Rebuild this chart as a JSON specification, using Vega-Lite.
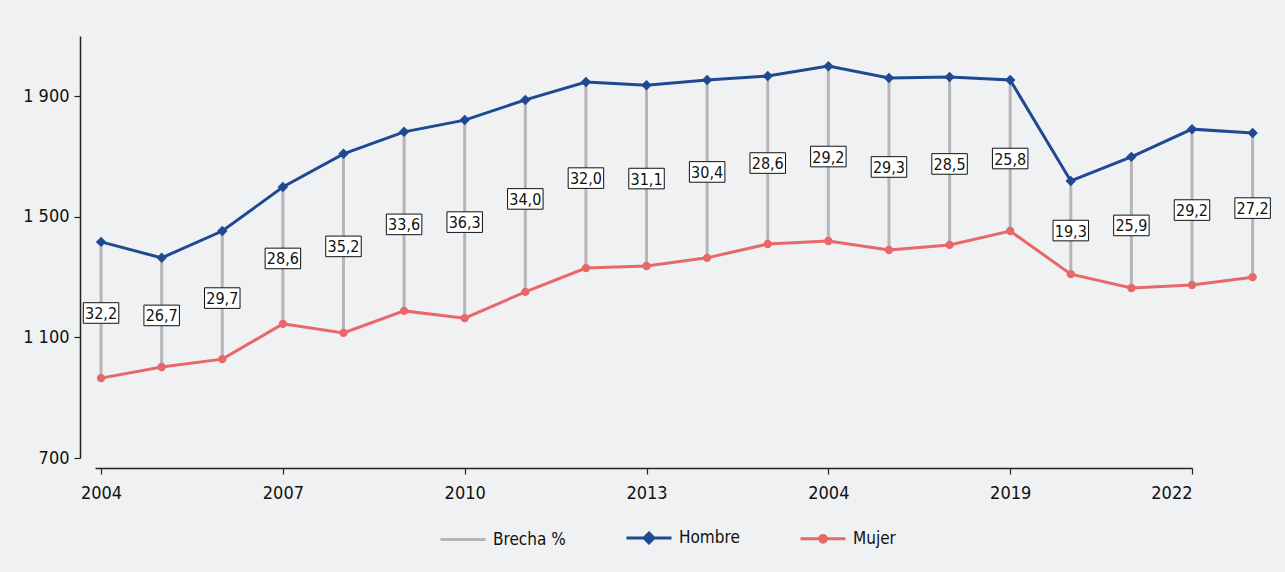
{
  "$schema": "https://vega.github.io/schema/vega-lite/v6.json",
  "width": 1097,
  "height": 422,
  "autosize": {"type": "none"},
  "padding": {"left": 95, "top": 36, "right": 93, "bottom": 114},
  "background": "#f0f1f3",
  "config": {
    "view": {"stroke": null},
    "font": "DejaVu Sans Condensed, Roboto, sans-serif",
    "locale": {"number": {"decimal": ",", "thousands": " ", "grouping": [3], "currency": ["", " €"]}},
    "legend": {
      "orient": "none",
      "legendX": 344,
      "legendY": 478,
      "direction": "horizontal",
      "title": null,
      "labelFont": "DejaVu Sans Condensed, Roboto, sans-serif",
      "labelFontSize": 17,
      "labelColor": "#111111",
      "labelOffset": 6,
      "columnPadding": 54,
      "symbolSize": 2025,
      "symbolStrokeWidth": 3
    }
  },
  "data": {
    "values": [
      {"anio": 2004, "Hombre": 1417, "Mujer": 965, "Brecha": 32.2},
      {"anio": 2005, "Hombre": 1364, "Mujer": 1002, "Brecha": 26.7},
      {"anio": 2006, "Hombre": 1453, "Mujer": 1028, "Brecha": 29.7},
      {"anio": 2007, "Hombre": 1599, "Mujer": 1145, "Brecha": 28.6},
      {"anio": 2008, "Hombre": 1709, "Mujer": 1115, "Brecha": 35.2},
      {"anio": 2009, "Hombre": 1782, "Mujer": 1188, "Brecha": 33.6},
      {"anio": 2010, "Hombre": 1821, "Mujer": 1164, "Brecha": 36.3},
      {"anio": 2011, "Hombre": 1888, "Mujer": 1251, "Brecha": 34.0},
      {"anio": 2012, "Hombre": 1947, "Mujer": 1330, "Brecha": 32.0},
      {"anio": 2013, "Hombre": 1937, "Mujer": 1337, "Brecha": 31.1},
      {"anio": 2014, "Hombre": 1954, "Mujer": 1364, "Brecha": 30.4},
      {"anio": 2015, "Hombre": 1967, "Mujer": 1410, "Brecha": 28.6},
      {"anio": 2016, "Hombre": 2000, "Mujer": 1420, "Brecha": 29.2},
      {"anio": 2017, "Hombre": 1961, "Mujer": 1390, "Brecha": 29.3},
      {"anio": 2018, "Hombre": 1964, "Mujer": 1407, "Brecha": 28.5},
      {"anio": 2019, "Hombre": 1954, "Mujer": 1453, "Brecha": 25.8},
      {"anio": 2020, "Hombre": 1619, "Mujer": 1310, "Brecha": 19.3},
      {"anio": 2021, "Hombre": 1699, "Mujer": 1264, "Brecha": 25.9},
      {"anio": 2022, "Hombre": 1791, "Mujer": 1274, "Brecha": 29.2},
      {"anio": 2023, "Hombre": 1778, "Mujer": 1300, "Brecha": 27.2}
    ]
  },
  "encoding": {
    "x": {
      "field": "anio",
      "type": "quantitative",
      "scale": {"domain": [2003.9, 2022], "nice": false, "zero": false},
      "axis": {
        "title": null,
        "values": [2004, 2007, 2010, 2013, 2016, 2019, 2022],
        "format": "d",
        "labelExpr": "datum.value == 2016 ? '2004' : datum.label",
        "offset": 10,
        "grid": false,
        "domainColor": "#222222",
        "domainWidth": 1.5,
        "tickColor": "#222222",
        "tickWidth": 1.2,
        "tickSize": 6,
        "labelFont": "DejaVu Sans Condensed, Roboto, sans-serif",
        "labelFontSize": 18,
        "labelColor": "#111111",
        "labelPadding": 10
      }
    }
  },
  "layer": [
    {
      "mark": {"type": "rule", "strokeWidth": 3},
      "encoding": {
        "y": {
          "field": "Mujer",
          "type": "quantitative",
          "scale": {"domain": [700, 2100], "nice": false, "zero": false},
          "axis": {
            "title": null,
            "values": [700, 1100, 1500, 1900],
            "format": ",d",
            "offset": 15,
            "grid": false,
            "domainColor": "#222222",
            "domainWidth": 1.5,
            "tickColor": "#222222",
            "tickWidth": 1.2,
            "tickSize": 6,
            "labelFont": "DejaVu Sans Condensed, Roboto, sans-serif",
            "labelFontSize": 18,
            "labelColor": "#111111",
            "labelPadding": 5
          }
        },
        "y2": {"field": "Hombre"},
        "color": {
          "datum": "Brecha %",
          "type": "nominal",
          "scale": {"domain": ["Brecha %", "Hombre", "Mujer"], "range": ["#b5b5ba", "#1f4a92", "#e8686a"]},
          "legend": {
            "encode": {
              "symbols": {
                "update": {
                  "shape": {"signal": "datum.label == 'Hombre' ? 'M-1,0L1,0M0,-0.22L0.22,0L0,0.22L-0.22,0Z' : (datum.label == 'Mujer' ? 'M-1,0L1,0M0.15,0A0.15,0.15 0 1,1 -0.15,0A0.15,0.15 0 1,1 0.15,0Z' : 'M-1,0L1,0')"},
                  "fill": {"signal": "scale('color', datum.value)"},
                  "stroke": {"signal": "scale('color', datum.value)"},
                  "strokeWidth": {"value": 3},
                  "size": {"value": 2025},
                  "opacity": {"value": 1}
                }
              }
            }
          }
        }
      }
    },
    {
      "transform": [{"fold": ["Hombre", "Mujer"], "as": ["serie", "valor"]}],
      "mark": {"type": "line", "strokeWidth": 3},
      "encoding": {
        "y": {"field": "valor", "type": "quantitative"},
        "color": {"field": "serie", "type": "nominal"}
      }
    },
    {
      "mark": {"type": "point", "shape": "diamond", "filled": true, "size": 110, "color": "#1f4a92", "opacity": 1},
      "encoding": {"y": {"field": "Hombre", "type": "quantitative"}}
    },
    {
      "mark": {"type": "point", "shape": "circle", "filled": true, "size": 70, "color": "#e8686a", "opacity": 1},
      "encoding": {"y": {"field": "Mujer", "type": "quantitative"}}
    },
    {
      "transform": [{"calculate": "(datum.Hombre + datum.Mujer) / 2", "as": "medio"}],
      "mark": {"type": "point", "shape": "M-1,-0.58L1,-0.58L1,0.58L-1,0.58Z", "size": 1260, "filled": false, "fill": "#ffffff", "fillOpacity": 1, "stroke": "#111111", "strokeWidth": 1, "opacity": 1, "yOffset": 3},
      "encoding": {"y": {"field": "medio", "type": "quantitative"}}
    },
    {
      "transform": [{"calculate": "(datum.Hombre + datum.Mujer) / 2", "as": "medio"}],
      "mark": {"type": "text", "font": "DejaVu Sans Condensed, Roboto, sans-serif", "fontSize": 16, "color": "#111111", "baseline": "middle", "align": "center", "yOffset": 4},
      "encoding": {
        "y": {"field": "medio", "type": "quantitative"},
        "text": {"field": "Brecha", "type": "quantitative", "format": ".1f"}
      }
    }
  ]
}
